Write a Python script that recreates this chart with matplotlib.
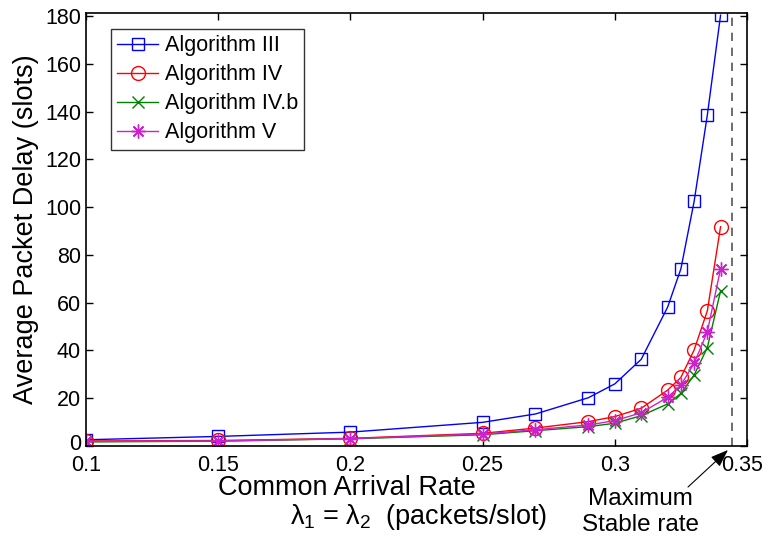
import matplotlib
matplotlib.use("Agg")
import matplotlib.pyplot as plt
from matplotlib.transforms import ScaledTranslation

plt.rcParams['font.family'] = ['Liberation Sans', 'DejaVu Sans']
plt.rcParams['mathtext.fontset'] = 'custom'
plt.rcParams['mathtext.rm'] = 'Liberation Sans'
plt.rcParams['mathtext.it'] = 'Liberation Sans'

rates = [0.1, 0.15, 0.2, 0.25, 0.27, 0.29, 0.3, 0.31, 0.32, 0.325, 0.33, 0.335, 0.34]
alg3 = [2.6, 4.0, 5.8, 9.9, 13.4, 20.2, 26.0, 36.3, 58.2, 74.2, 102.4, 138.6, 180.4]
alg4 = [2.1, 2.3, 3.2, 5.3, 7.5, 10.2, 12.3, 15.8, 23.4, 28.7, 40.2, 56.6, 91.8]
alg4b = [1.7, 2.0, 3.0, 4.7, 6.4, 8.1, 9.5, 12.7, 17.6, 22.0, 29.7, 41.2, 64.9]
alg5 = [1.9, 2.1, 3.1, 5.0, 6.8, 8.8, 10.6, 13.9, 20.4, 25.5, 34.6, 47.8, 74.2]
labels = ['Algorithm III', 'Algorithm IV', 'Algorithm IV.b', 'Algorithm V']
max_stable = 0.3445
xticks = [0.1, 0.15, 0.2, 0.25, 0.3, 0.35]
xticklabels = ['0.1', '0.15', '0.2', '0.25', '0.3', '0.35']
yticks = list(range(0, 181, 20))

fig = plt.figure(figsize=(7.69, 5.37), dpi=100)
ax = fig.add_axes([0.1118, 0.1695, 0.9714 - 0.1118, 0.9758 - 0.1695])

ms = 9
ax.plot(rates, alg3, color='#0000ff', marker='s', mfc='none', ms=ms, lw=1, mew=1, label=labels[0])
ax.plot(rates, alg4, color='#ff0000', marker='o', mfc='none', ms=ms + 1, lw=1, mew=1, label=labels[1])
ax.plot(rates, alg4b, color='#008000', marker='x', ms=ms, lw=1, mew=1, label=labels[2])
ax.plot(rates, alg5, color='#cc22cc', marker=(8, 2, 0), ms=ms + 1, lw=1, mew=1, label=labels[3])

ax.axvline(max_stable, color='#555555', ls=(0, (5, 4)), lw=1.2)

ax.set_xlim(0.1, 0.35)
ax.set_ylim(0, 181.3)
ax.set_xticks(xticks)
ax.set_xticklabels(xticklabels)
ax.set_yticks(yticks)
ax.tick_params(direction='in', top=True, right=True, labelsize=15.5, length=5, width=1)
ax.tick_params(axis='x', pad=6.5)
ax.tick_params(axis='y', pad=3.5)
for s in ax.spines.values():
    s.set_linewidth(1.2)

# small MATLAB-like label nudges
last = ax.get_xticklabels()[-1]
last.set_transform(last.get_transform() + ScaledTranslation(-5 / 100, 0, fig.dpi_scale_trans))
first_y = ax.get_yticklabels()[0]
first_y.set_transform(first_y.get_transform() + ScaledTranslation(0, 4 / 100, fig.dpi_scale_trans))

ax.set_ylabel('Average Packet Delay (slots)', fontsize=19.5, labelpad=4)

leg = ax.legend(loc='upper left', bbox_to_anchor=(0.0378, 0.963), fontsize=15.5,
                frameon=True, fancybox=False, edgecolor='black', handlelength=1.9,
                handletextpad=0.3, borderpad=0.3, labelspacing=0.37, borderaxespad=0)
leg.get_frame().set_linewidth(1.0)

fig.text(347 / 769, 1 - 488 / 537, 'Common Arrival Rate', fontsize=19.5, ha='center', va='center')
fig.text(419 / 769, 1 - 517 / 537, r'$\lambda_1$ = $\lambda_2$  (packets/slot)', fontsize=19.5,
         ha='center', va='center')
fig.text(640 / 769, 1 - 512 / 537, 'Maximum\nStable rate', fontsize=17.5, ha='center', va='center',
         linespacing=1.22)
ax.annotate('', xy=(728 / 769, 1 - 450 / 537), xycoords='figure fraction',
            xytext=(688 / 769, 1 - 487 / 537), textcoords='figure fraction',
            arrowprops=dict(arrowstyle='-|>,head_length=0.6,head_width=0.22', color='black',
                            lw=0.8, mutation_scale=18, shrinkA=0, shrinkB=0),
            annotation_clip=False)

fig.savefig('out.png', dpi=100)
